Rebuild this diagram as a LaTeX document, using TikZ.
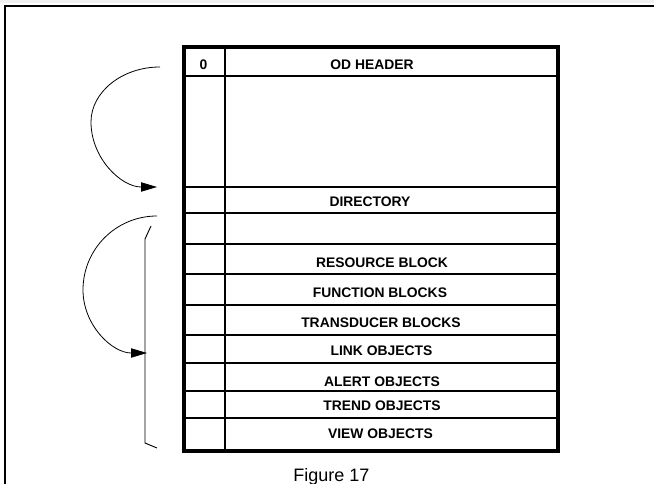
\documentclass[tikz,border=0pt]{standalone}
\usepackage{fontspec}
\setmainfont{Liberation Sans}
\usetikzlibrary{arrows.meta, positioning, calc}
\tikzset{
    frame/.style={line width=2.2pt},
    box/.style={line width=2.4pt},
    rule/.style={line width=0.9pt},
    entry/.style={font=\bfseries\fontsize{10.4}{12}\selectfont, inner sep=0pt, anchor=base},
    jump/.style={-{Triangle[length=12pt, width=7pt]}, line width=0.6pt},
    bracket/.style={line width=0.7pt}
}

\begin{document}
\begin{tikzpicture}[x=0.75pt, y=-0.75pt]
    \useasboundingbox (0,0) rectangle (654,484);
    \fill[black!6] (0,0) rectangle (654,3);
    \draw[frame] (5,484) -- (5,6) -- (654,6);

    \foreach \r in {76,187,213,244,274,305,335,363,391,418}
        \draw[rule] (184,\r) -- (558,\r);
    \draw[rule] (225,47) -- (225,452);
    \draw[box] (184,47) rectangle (558,451);

    \node[entry] (zero) at (203.5,69.5) {0};
    \node[entry] (hdr) at (372,70) {OD HEADER};
    \node[entry] (dir) at (370,207) {DIRECTORY};
    \node[entry] (res) at (382,268) {RESOURCE BLOCK};
    \node[entry] (fun) at (380,298) {FUNCTION BLOCKS};
    \node[entry] (trd) at (381,328) {TRANSDUCER BLOCKS};
    \node[entry] (lnk) at (381.5,356) {LINK OBJECTS};
    \node[entry] (alr) at (382,387) {ALERT OBJECTS};
    \node[entry] (trn) at (382,411) {TREND OBJECTS};
    \node[entry] (vie) at (380.5,439) {VIEW OBJECTS};
    \node[inner sep=0pt, anchor=base, font=\fontsize{13.5}{16}\selectfont] (cap) at (331.5,481.5) {Figure 17};

    \coordinate (hdrOut) at (160,67);
    \coordinate (dirIn) at (157,187);
    \coordinate (dirOut) at (157,216);
    \coordinate (lnkIn) at (147,353);
    \coordinate (spanTop) at (145,239);
    \coordinate (spanBot) at (145,443);

    \draw[jump] (hdrOut) .. controls (122,67) and (91,92) .. (91,122)
        .. controls (91,158) and (121,187) .. (dirIn);
    \draw[jump] (dirOut) .. controls (116,216) and (83,249) .. (83,290)
        .. controls (83,325) and (112,353) .. (lnkIn);
    \draw[bracket] ($(spanTop)+(6,-13)$) -- (spanTop) -- (spanBot) -- ++(12,5);
\end{tikzpicture}
\end{document}
